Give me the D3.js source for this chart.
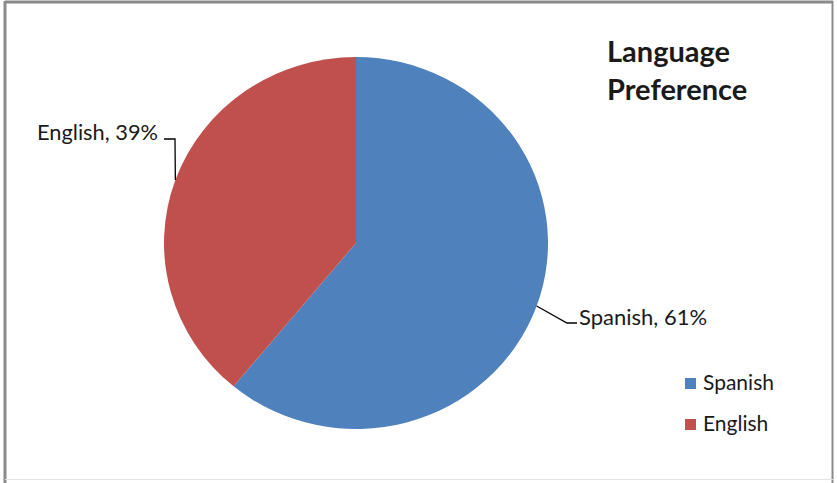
<!DOCTYPE html>
<html><head><meta charset="utf-8">
<script src="https://cdn.jsdelivr.net/npm/d3@7"></script>
<style>body{margin:0;background:#fff}svg{display:block}text{font-family:Lato,"Open Sans",sans-serif;fill:#1a1a1a}</style>
</head><body>
<script>
const categories = ["Spanish", "English"];
const values = [61, 39];
const colors = ["#4F81BD", "#C0504D"];
const title = ["Language", "Preference"];

const W = 837, H = 483;
const svg = d3.select("body").append("svg").attr("width", W).attr("height", H);

// frame
svg.append("line").attr("x1",5).attr("y1",2).attr("x2",833).attr("y2",2).attr("stroke","#8a8a8a").attr("stroke-width",3);
svg.append("line").attr("x1",5).attr("y1",1).attr("x2",5).attr("y2",483).attr("stroke","#8a8a8a").attr("stroke-width",3);
svg.append("line").attr("x1",832.5).attr("y1",1).attr("x2",832.5).attr("y2",483).attr("stroke","#8a8a8a").attr("stroke-width",2);
svg.append("line").attr("x1",5).attr("y1",479.5).attr("x2",833).attr("y2",479.5).attr("stroke","#e4e4e4").attr("stroke-width",1);

const cx = 356, cy = 243, r = 186, sx = 192/186;
const pie = d3.pie().sort(null).value(d => d)(values);
const arc = d3.arc().innerRadius(0).outerRadius(r);
const g = svg.append("g").attr("transform", `translate(${cx},${cy}) scale(${sx},1)`);
g.selectAll("path").data(pie).join("path").attr("d", arc).attr("fill", (d,i) => colors[i]);

// leader lines & labels
function edge(angle, rr){ return [cx + sx*rr*Math.sin(angle), cy - rr*Math.cos(angle)]; }
const mid = d => (d.startAngle + d.endAngle) / 2;
const sp = pie[0], en = pie[1];
// Spanish label
const p1 = edge(mid(sp), r);
svg.append("polyline").attr("points", [p1, [567,323], [577,323]].map(p=>p.join(",")).join(" "))
  .attr("fill","none").attr("stroke","#000").attr("stroke-width",1.3);
svg.append("text").attr("x",579).attr("y",325).attr("font-size",22).text(`${categories[0]}, ${values[0]}%`);
// English label
const p2 = edge(mid(en), r);
svg.append("polyline").attr("points", [p2, [175,139], [164,139]].map(p=>p.join(",")).join(" "))
  .attr("fill","none").attr("stroke","#000").attr("stroke-width",1.3);
svg.append("text").attr("x",158).attr("y",140).attr("text-anchor","end").attr("font-size",21.8).text(`${categories[1]}, ${values[1]}%`);

// title
svg.append("text").attr("x",607).attr("y",62).attr("font-size",29).attr("font-weight","bold").text(title[0]);
svg.append("text").attr("x",607).attr("y",100).attr("font-size",29).attr("font-weight","bold").text(title[1]);

// legend
const lg = svg.append("g");
categories.forEach((c,i) => {
  const y = 383 + i*41;
  lg.append("rect").attr("x",685).attr("y",y-5).attr("width",11).attr("height",11).attr("fill",colors[i]);
  lg.append("text").attr("x",703).attr("y",y+7).attr("font-size",21).text(c);
});
</script>
</body></html>
